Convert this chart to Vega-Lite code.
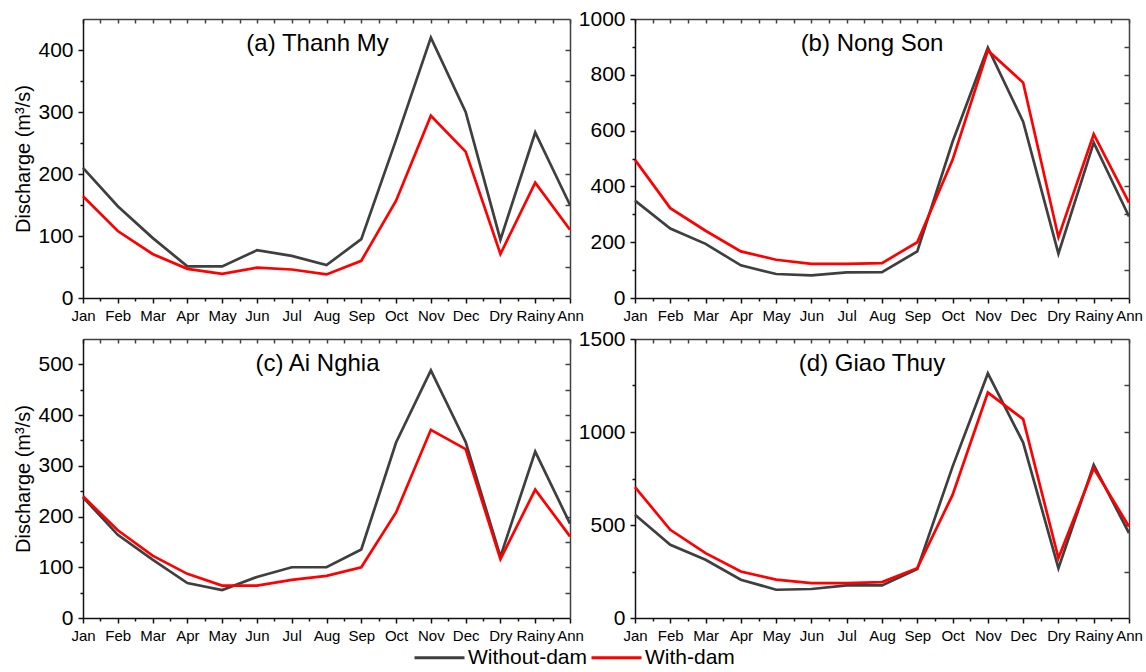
{
  "$schema": "https://vega.github.io/schema/vega-lite/v6.json",
  "padding": {"left": 13, "top": 8, "right": 5, "bottom": 5},
  "config": {
    "font": "Liberation Sans",
    "view": {"stroke": null},
    "axis": {"grid": false, "labelFont": "Liberation Sans", "titleFont": "Liberation Sans", "labelColor": "#000", "titleColor": "#000", "tickColor": "#111", "domainColor": "#111", "titleFontWeight": "normal", "tickWidth": 1.5, "domainWidth": 1.5},
    "title": {"font": "Liberation Sans", "fontWeight": "normal", "fontSize": 24, "color": "#000"}
  },
  "datasets": {
    "d": [
      {"s":"a","p":"Jan","k":"Without-dam","q":210},{"s":"a","p":"Feb","k":"Without-dam","q":148},{"s":"a","p":"Mar","k":"Without-dam","q":97},{"s":"a","p":"Apr","k":"Without-dam","q":51},{"s":"a","p":"May","k":"Without-dam","q":51},{"s":"a","p":"Jun","k":"Without-dam","q":77},{"s":"a","p":"Jul","k":"Without-dam","q":68},{"s":"a","p":"Aug","k":"Without-dam","q":53},{"s":"a","p":"Sep","k":"Without-dam","q":95},{"s":"a","p":"Oct","k":"Without-dam","q":255},{"s":"a","p":"Nov","k":"Without-dam","q":420},{"s":"a","p":"Dec","k":"Without-dam","q":300},{"s":"a","p":"Dry","k":"Without-dam","q":94},{"s":"a","p":"Rainy","k":"Without-dam","q":267},{"s":"a","p":"Ann","k":"Without-dam","q":150},
      {"s":"a","p":"Jan","k":"With-dam","q":164},{"s":"a","p":"Feb","k":"With-dam","q":108},{"s":"a","p":"Mar","k":"With-dam","q":71},{"s":"a","p":"Apr","k":"With-dam","q":47},{"s":"a","p":"May","k":"With-dam","q":39},{"s":"a","p":"Jun","k":"With-dam","q":49},{"s":"a","p":"Jul","k":"With-dam","q":46},{"s":"a","p":"Aug","k":"With-dam","q":38},{"s":"a","p":"Sep","k":"With-dam","q":60},{"s":"a","p":"Oct","k":"With-dam","q":157},{"s":"a","p":"Nov","k":"With-dam","q":294},{"s":"a","p":"Dec","k":"With-dam","q":236},{"s":"a","p":"Dry","k":"With-dam","q":71},{"s":"a","p":"Rainy","k":"With-dam","q":186},{"s":"a","p":"Ann","k":"With-dam","q":110},
      {"s":"b","p":"Jan","k":"Without-dam","q":349},{"s":"b","p":"Feb","k":"Without-dam","q":249},{"s":"b","p":"Mar","k":"Without-dam","q":194},{"s":"b","p":"Apr","k":"Without-dam","q":117},{"s":"b","p":"May","k":"Without-dam","q":86},{"s":"b","p":"Jun","k":"Without-dam","q":81},{"s":"b","p":"Jul","k":"Without-dam","q":92},{"s":"b","p":"Aug","k":"Without-dam","q":93},{"s":"b","p":"Sep","k":"Without-dam","q":167},{"s":"b","p":"Oct","k":"Without-dam","q":560},{"s":"b","p":"Nov","k":"Without-dam","q":897},{"s":"b","p":"Dec","k":"Without-dam","q":632},{"s":"b","p":"Dry","k":"Without-dam","q":159},{"s":"b","p":"Rainy","k":"Without-dam","q":557},{"s":"b","p":"Ann","k":"Without-dam","q":292},
      {"s":"b","p":"Jan","k":"With-dam","q":495},{"s":"b","p":"Feb","k":"With-dam","q":322},{"s":"b","p":"Mar","k":"With-dam","q":241},{"s":"b","p":"Apr","k":"With-dam","q":167},{"s":"b","p":"May","k":"With-dam","q":137},{"s":"b","p":"Jun","k":"With-dam","q":122},{"s":"b","p":"Jul","k":"With-dam","q":122},{"s":"b","p":"Aug","k":"With-dam","q":125},{"s":"b","p":"Sep","k":"With-dam","q":200},{"s":"b","p":"Oct","k":"With-dam","q":495},{"s":"b","p":"Nov","k":"With-dam","q":887},{"s":"b","p":"Dec","k":"With-dam","q":772},{"s":"b","p":"Dry","k":"With-dam","q":218},{"s":"b","p":"Rainy","k":"With-dam","q":587},{"s":"b","p":"Ann","k":"With-dam","q":342},
      {"s":"c","p":"Jan","k":"Without-dam","q":238},{"s":"c","p":"Feb","k":"Without-dam","q":164},{"s":"c","p":"Mar","k":"Without-dam","q":115},{"s":"c","p":"Apr","k":"Without-dam","q":69},{"s":"c","p":"May","k":"Without-dam","q":55},{"s":"c","p":"Jun","k":"Without-dam","q":81},{"s":"c","p":"Jul","k":"Without-dam","q":100},{"s":"c","p":"Aug","k":"Without-dam","q":100},{"s":"c","p":"Sep","k":"Without-dam","q":135},{"s":"c","p":"Oct","k":"Without-dam","q":346},{"s":"c","p":"Nov","k":"Without-dam","q":488},{"s":"c","p":"Dec","k":"Without-dam","q":347},{"s":"c","p":"Dry","k":"Without-dam","q":121},{"s":"c","p":"Rainy","k":"Without-dam","q":328},{"s":"c","p":"Ann","k":"Without-dam","q":186},
      {"s":"c","p":"Jan","k":"With-dam","q":240},{"s":"c","p":"Feb","k":"With-dam","q":173},{"s":"c","p":"Mar","k":"With-dam","q":123},{"s":"c","p":"Apr","k":"With-dam","q":87},{"s":"c","p":"May","k":"With-dam","q":64},{"s":"c","p":"Jun","k":"With-dam","q":64},{"s":"c","p":"Jul","k":"With-dam","q":75},{"s":"c","p":"Aug","k":"With-dam","q":83},{"s":"c","p":"Sep","k":"With-dam","q":100},{"s":"c","p":"Oct","k":"With-dam","q":208},{"s":"c","p":"Nov","k":"With-dam","q":371},{"s":"c","p":"Dec","k":"With-dam","q":333},{"s":"c","p":"Dry","k":"With-dam","q":116},{"s":"c","p":"Rainy","k":"With-dam","q":253},{"s":"c","p":"Ann","k":"With-dam","q":161},
      {"s":"d","p":"Jan","k":"Without-dam","q":555},{"s":"d","p":"Feb","k":"Without-dam","q":394},{"s":"d","p":"Mar","k":"Without-dam","q":313},{"s":"d","p":"Apr","k":"Without-dam","q":206},{"s":"d","p":"May","k":"Without-dam","q":152},{"s":"d","p":"Jun","k":"Without-dam","q":156},{"s":"d","p":"Jul","k":"Without-dam","q":175},{"s":"d","p":"Aug","k":"Without-dam","q":175},{"s":"d","p":"Sep","k":"Without-dam","q":263},{"s":"d","p":"Oct","k":"Without-dam","q":814},{"s":"d","p":"Nov","k":"Without-dam","q":1315},{"s":"d","p":"Dec","k":"Without-dam","q":943},{"s":"d","p":"Dry","k":"Without-dam","q":268},{"s":"d","p":"Rainy","k":"Without-dam","q":823},{"s":"d","p":"Ann","k":"Without-dam","q":456},
      {"s":"d","p":"Jan","k":"With-dam","q":704},{"s":"d","p":"Feb","k":"With-dam","q":474},{"s":"d","p":"Mar","k":"With-dam","q":349},{"s":"d","p":"Apr","k":"With-dam","q":250},{"s":"d","p":"May","k":"With-dam","q":206},{"s":"d","p":"Jun","k":"With-dam","q":188},{"s":"d","p":"Jul","k":"With-dam","q":188},{"s":"d","p":"Aug","k":"With-dam","q":193},{"s":"d","p":"Sep","k":"With-dam","q":268},{"s":"d","p":"Oct","k":"With-dam","q":662},{"s":"d","p":"Nov","k":"With-dam","q":1212},{"s":"d","p":"Dec","k":"With-dam","q":1069},{"s":"d","p":"Dry","k":"With-dam","q":322},{"s":"d","p":"Rainy","k":"With-dam","q":805},{"s":"d","p":"Ann","k":"With-dam","q":492}
    ]
  },
  "data": {"name": "d"},
  "transform": [{"calculate": "indexof(['Jan','Feb','Mar','Apr','May','Jun','Jul','Aug','Sep','Oct','Nov','Dec','Dry','Rainy','Ann'], datum.p)", "as": "i"}],
  "bounds": "flush",
  "align": "each",
  "columns": 2,
  "spacing": {"row": 41, "column": 65},
  "concat": [
        {
          "width": 487, "height": 279,
          "title": {"text": "(a) Thanh My", "frame": "group", "anchor": "middle", "offset": -57, "dx": -9, "baseline": "alphabetic"},
          "transform": [{"filter": "datum.s === 'a'"}],
          "resolve": {"axis": {"x": "independent", "y": "independent"}},
          "layer": [
            {"mark": {"type": "line", "strokeWidth": 2.7},
             "encoding": {
               "x": {"field": "i", "type": "quantitative", "scale": {"domain": [0, 14], "nice": false, "zero": false}, "axis": {"orient": "bottom", "values": [0,1,2,3,4,5,6,7,8,9,10,11,12,13,14], "labelExpr": "['Jan','Feb','Mar','Apr','May','Jun','Jul','Aug','Sep','Oct','Nov','Dec','Dry','Rainy','Ann'][datum.value]", "tickSize": 5, "labelFontSize": 15, "labelPadding": 5, "labelOverlap": false, "labelFlush": false, "labelBound": false, "title": null}},
               "y": {"field": "q", "type": "quantitative", "scale": {"domain": [0, 450], "nice": false}, "axis": {"orient": "left", "format": "d", "values": [0,100,200,300,400], "tickSize": 5, "labelFontSize": 21, "labelPadding": 5, "labelOverlap": false, "title": "Discharge (m³/s)", "titleFontSize": 20, "titlePadding": 4}},
               "color": {"field": "k", "type": "nominal", "scale": {"domain": ["Without-dam", "With-dam"], "range": ["#3f3f3f", "#ff0000"]}, "legend": {"title": null, "orient": "none", "legendX": 330, "legendY": 612, "direction": "horizontal", "symbolType": "stroke", "symbolSize": 2500, "symbolStrokeWidth": 3, "labelFontSize": 21, "labelFont": "Liberation Sans", "labelColor": "#000", "labelOffset": 2, "columnPadding": -3}}
             }},
            {"mark": {"type": "line", "opacity": 0},
             "encoding": {
               "x": {"field": "i", "type": "quantitative", "scale": {"domain": [0, 14], "nice": false, "zero": false}, "axis": {"orient": "bottom", "values": [0.5,1.5,2.5,3.5,4.5,5.5,6.5,7.5,8.5,9.5,10.5,11.5,12.5,13.5], "labels": false, "domain": false, "tickSize": 3, "title": null}},
               "y": {"field": "q", "type": "quantitative", "scale": {"domain": [0, 450], "nice": false}, "axis": {"orient": "left", "values": [50,150,250,350], "labels": false, "domain": false, "tickSize": 3, "title": null}}
             }},
            {"mark": {"type": "line", "opacity": 0},
             "encoding": {
               "x": {"field": "i", "type": "quantitative", "scale": {"domain": [0, 14], "nice": false, "zero": false}, "axis": {"orient": "top", "values": [0,0.5,1,1.5,2,2.5,3,3.5,4,4.5,5,5.5,6,6.5,7,7.5,8,8.5,9,9.5,10,10.5,11,11.5,12,12.5,13,13.5,14], "labels": false, "tickSize": -4, "domainColor": "#404040", "tickColor": "#404040", "title": null}},
               "y": {"field": "q", "type": "quantitative", "scale": {"domain": [0, 450], "nice": false}, "axis": {"orient": "right", "values": [50,100,150,200,250,300,350,400], "labels": false, "tickSize": -5, "domainColor": "#404040", "tickColor": "#404040", "title": null}}
             }}
          ]
        },
        {
          "width": 494, "height": 279,
          "title": {"text": "(b) Nong Son", "frame": "group", "anchor": "middle", "offset": -67, "dx": -10, "baseline": "alphabetic"},
          "transform": [{"filter": "datum.s === 'b'"}],
          "resolve": {"axis": {"x": "independent", "y": "independent"}},
          "layer": [
            {"mark": {"type": "line", "strokeWidth": 2.7},
             "encoding": {
               "x": {"field": "i", "type": "quantitative", "scale": {"domain": [0, 14], "nice": false, "zero": false}, "axis": {"orient": "bottom", "values": [0,1,2,3,4,5,6,7,8,9,10,11,12,13,14], "labelExpr": "['Jan','Feb','Mar','Apr','May','Jun','Jul','Aug','Sep','Oct','Nov','Dec','Dry','Rainy','Ann'][datum.value]", "tickSize": 5, "labelFontSize": 15, "labelPadding": 5, "labelOverlap": false, "labelFlush": false, "labelBound": false, "title": null}},
               "y": {"field": "q", "type": "quantitative", "scale": {"domain": [0, 1000], "nice": false}, "axis": {"orient": "left", "format": "d", "values": [0,200,400,600,800,1000], "tickSize": 5, "labelFontSize": 21, "labelPadding": 5, "labelOverlap": false, "title": null}},
               "color": {"field": "k", "type": "nominal", "scale": {"domain": ["Without-dam", "With-dam"], "range": ["#3f3f3f", "#ff0000"]}, "legend": {"title": null, "orient": "none", "legendX": 330, "legendY": 612, "direction": "horizontal", "symbolType": "stroke", "symbolSize": 2500, "symbolStrokeWidth": 3, "labelFontSize": 21, "labelFont": "Liberation Sans", "labelColor": "#000", "labelOffset": 2, "columnPadding": -3}}
             }},
            {"mark": {"type": "line", "opacity": 0},
             "encoding": {
               "x": {"field": "i", "type": "quantitative", "scale": {"domain": [0, 14], "nice": false, "zero": false}, "axis": {"orient": "bottom", "values": [0.5,1.5,2.5,3.5,4.5,5.5,6.5,7.5,8.5,9.5,10.5,11.5,12.5,13.5], "labels": false, "domain": false, "tickSize": 3, "title": null}},
               "y": {"field": "q", "type": "quantitative", "scale": {"domain": [0, 1000], "nice": false}, "axis": {"orient": "left", "values": [100,300,500,700,900], "labels": false, "domain": false, "tickSize": 3, "title": null}}
             }},
            {"mark": {"type": "line", "opacity": 0},
             "encoding": {
               "x": {"field": "i", "type": "quantitative", "scale": {"domain": [0, 14], "nice": false, "zero": false}, "axis": {"orient": "top", "values": [0,0.5,1,1.5,2,2.5,3,3.5,4,4.5,5,5.5,6,6.5,7,7.5,8,8.5,9,9.5,10,10.5,11,11.5,12,12.5,13,13.5,14], "labels": false, "tickSize": -4, "domainColor": "#404040", "tickColor": "#404040", "title": null}},
               "y": {"field": "q", "type": "quantitative", "scale": {"domain": [0, 1000], "nice": false}, "axis": {"orient": "right", "values": [100,200,300,400,500,600,700,800,900], "labels": false, "tickSize": -5, "domainColor": "#404040", "tickColor": "#404040", "title": null}}
             }}
          ]
        },
        {
          "width": 487, "height": 279,
          "title": {"text": "(c) Ai Nghia", "frame": "group", "anchor": "middle", "offset": -57, "dx": -9, "baseline": "alphabetic"},
          "transform": [{"filter": "datum.s === 'c'"}],
          "resolve": {"axis": {"x": "independent", "y": "independent"}},
          "layer": [
            {"mark": {"type": "line", "strokeWidth": 2.7},
             "encoding": {
               "x": {"field": "i", "type": "quantitative", "scale": {"domain": [0, 14], "nice": false, "zero": false}, "axis": {"orient": "bottom", "values": [0,1,2,3,4,5,6,7,8,9,10,11,12,13,14], "labelExpr": "['Jan','Feb','Mar','Apr','May','Jun','Jul','Aug','Sep','Oct','Nov','Dec','Dry','Rainy','Ann'][datum.value]", "tickSize": 5, "labelFontSize": 15, "labelPadding": 5, "labelOverlap": false, "labelFlush": false, "labelBound": false, "title": null}},
               "y": {"field": "q", "type": "quantitative", "scale": {"domain": [0, 550], "nice": false}, "axis": {"orient": "left", "format": "d", "values": [0,100,200,300,400,500], "tickSize": 5, "labelFontSize": 21, "labelPadding": 5, "labelOverlap": false, "title": "Discharge (m³/s)", "titleFontSize": 20, "titlePadding": 4}},
               "color": {"field": "k", "type": "nominal", "scale": {"domain": ["Without-dam", "With-dam"], "range": ["#3f3f3f", "#ff0000"]}, "legend": {"title": null, "orient": "none", "legendX": 330, "legendY": 612, "direction": "horizontal", "symbolType": "stroke", "symbolSize": 2500, "symbolStrokeWidth": 3, "labelFontSize": 21, "labelFont": "Liberation Sans", "labelColor": "#000", "labelOffset": 2, "columnPadding": -3}}
             }},
            {"mark": {"type": "line", "opacity": 0},
             "encoding": {
               "x": {"field": "i", "type": "quantitative", "scale": {"domain": [0, 14], "nice": false, "zero": false}, "axis": {"orient": "bottom", "values": [0.5,1.5,2.5,3.5,4.5,5.5,6.5,7.5,8.5,9.5,10.5,11.5,12.5,13.5], "labels": false, "domain": false, "tickSize": 3, "title": null}},
               "y": {"field": "q", "type": "quantitative", "scale": {"domain": [0, 550], "nice": false}, "axis": {"orient": "left", "values": [50,150,250,350,450], "labels": false, "domain": false, "tickSize": 3, "title": null}}
             }},
            {"mark": {"type": "line", "opacity": 0},
             "encoding": {
               "x": {"field": "i", "type": "quantitative", "scale": {"domain": [0, 14], "nice": false, "zero": false}, "axis": {"orient": "top", "values": [0,0.5,1,1.5,2,2.5,3,3.5,4,4.5,5,5.5,6,6.5,7,7.5,8,8.5,9,9.5,10,10.5,11,11.5,12,12.5,13,13.5,14], "labels": false, "tickSize": -4, "domainColor": "#404040", "tickColor": "#404040", "title": null}},
               "y": {"field": "q", "type": "quantitative", "scale": {"domain": [0, 550], "nice": false}, "axis": {"orient": "right", "values": [50,100,150,200,250,300,350,400,450,500], "labels": false, "tickSize": -5, "domainColor": "#404040", "tickColor": "#404040", "title": null}}
             }}
          ]
        },
        {
          "width": 494, "height": 279,
          "title": {"text": "(d) Giao Thuy", "frame": "group", "anchor": "middle", "offset": -67, "dx": -10, "baseline": "alphabetic"},
          "transform": [{"filter": "datum.s === 'd'"}],
          "resolve": {"axis": {"x": "independent", "y": "independent"}},
          "layer": [
            {"mark": {"type": "line", "strokeWidth": 2.7},
             "encoding": {
               "x": {"field": "i", "type": "quantitative", "scale": {"domain": [0, 14], "nice": false, "zero": false}, "axis": {"orient": "bottom", "values": [0,1,2,3,4,5,6,7,8,9,10,11,12,13,14], "labelExpr": "['Jan','Feb','Mar','Apr','May','Jun','Jul','Aug','Sep','Oct','Nov','Dec','Dry','Rainy','Ann'][datum.value]", "tickSize": 5, "labelFontSize": 15, "labelPadding": 5, "labelOverlap": false, "labelFlush": false, "labelBound": false, "title": null}},
               "y": {"field": "q", "type": "quantitative", "scale": {"domain": [0, 1500], "nice": false}, "axis": {"orient": "left", "format": "d", "values": [0,500,1000,1500], "tickSize": 5, "labelFontSize": 21, "labelPadding": 5, "labelOverlap": false, "title": null}},
               "color": {"field": "k", "type": "nominal", "scale": {"domain": ["Without-dam", "With-dam"], "range": ["#3f3f3f", "#ff0000"]}, "legend": {"title": null, "orient": "none", "legendX": 330, "legendY": 612, "direction": "horizontal", "symbolType": "stroke", "symbolSize": 2500, "symbolStrokeWidth": 3, "labelFontSize": 21, "labelFont": "Liberation Sans", "labelColor": "#000", "labelOffset": 2, "columnPadding": -3}}
             }},
            {"mark": {"type": "line", "opacity": 0},
             "encoding": {
               "x": {"field": "i", "type": "quantitative", "scale": {"domain": [0, 14], "nice": false, "zero": false}, "axis": {"orient": "bottom", "values": [0.5,1.5,2.5,3.5,4.5,5.5,6.5,7.5,8.5,9.5,10.5,11.5,12.5,13.5], "labels": false, "domain": false, "tickSize": 3, "title": null}},
               "y": {"field": "q", "type": "quantitative", "scale": {"domain": [0, 1500], "nice": false}, "axis": {"orient": "left", "values": [250,750,1250], "labels": false, "domain": false, "tickSize": 3, "title": null}}
             }},
            {"mark": {"type": "line", "opacity": 0},
             "encoding": {
               "x": {"field": "i", "type": "quantitative", "scale": {"domain": [0, 14], "nice": false, "zero": false}, "axis": {"orient": "top", "values": [0,0.5,1,1.5,2,2.5,3,3.5,4,4.5,5,5.5,6,6.5,7,7.5,8,8.5,9,9.5,10,10.5,11,11.5,12,12.5,13,13.5,14], "labels": false, "tickSize": -4, "domainColor": "#404040", "tickColor": "#404040", "title": null}},
               "y": {"field": "q", "type": "quantitative", "scale": {"domain": [0, 1500], "nice": false}, "axis": {"orient": "right", "values": [250,500,750,1000,1250], "labels": false, "tickSize": -5, "domainColor": "#404040", "tickColor": "#404040", "title": null}}
             }}
          ]
        }
  ]
}
